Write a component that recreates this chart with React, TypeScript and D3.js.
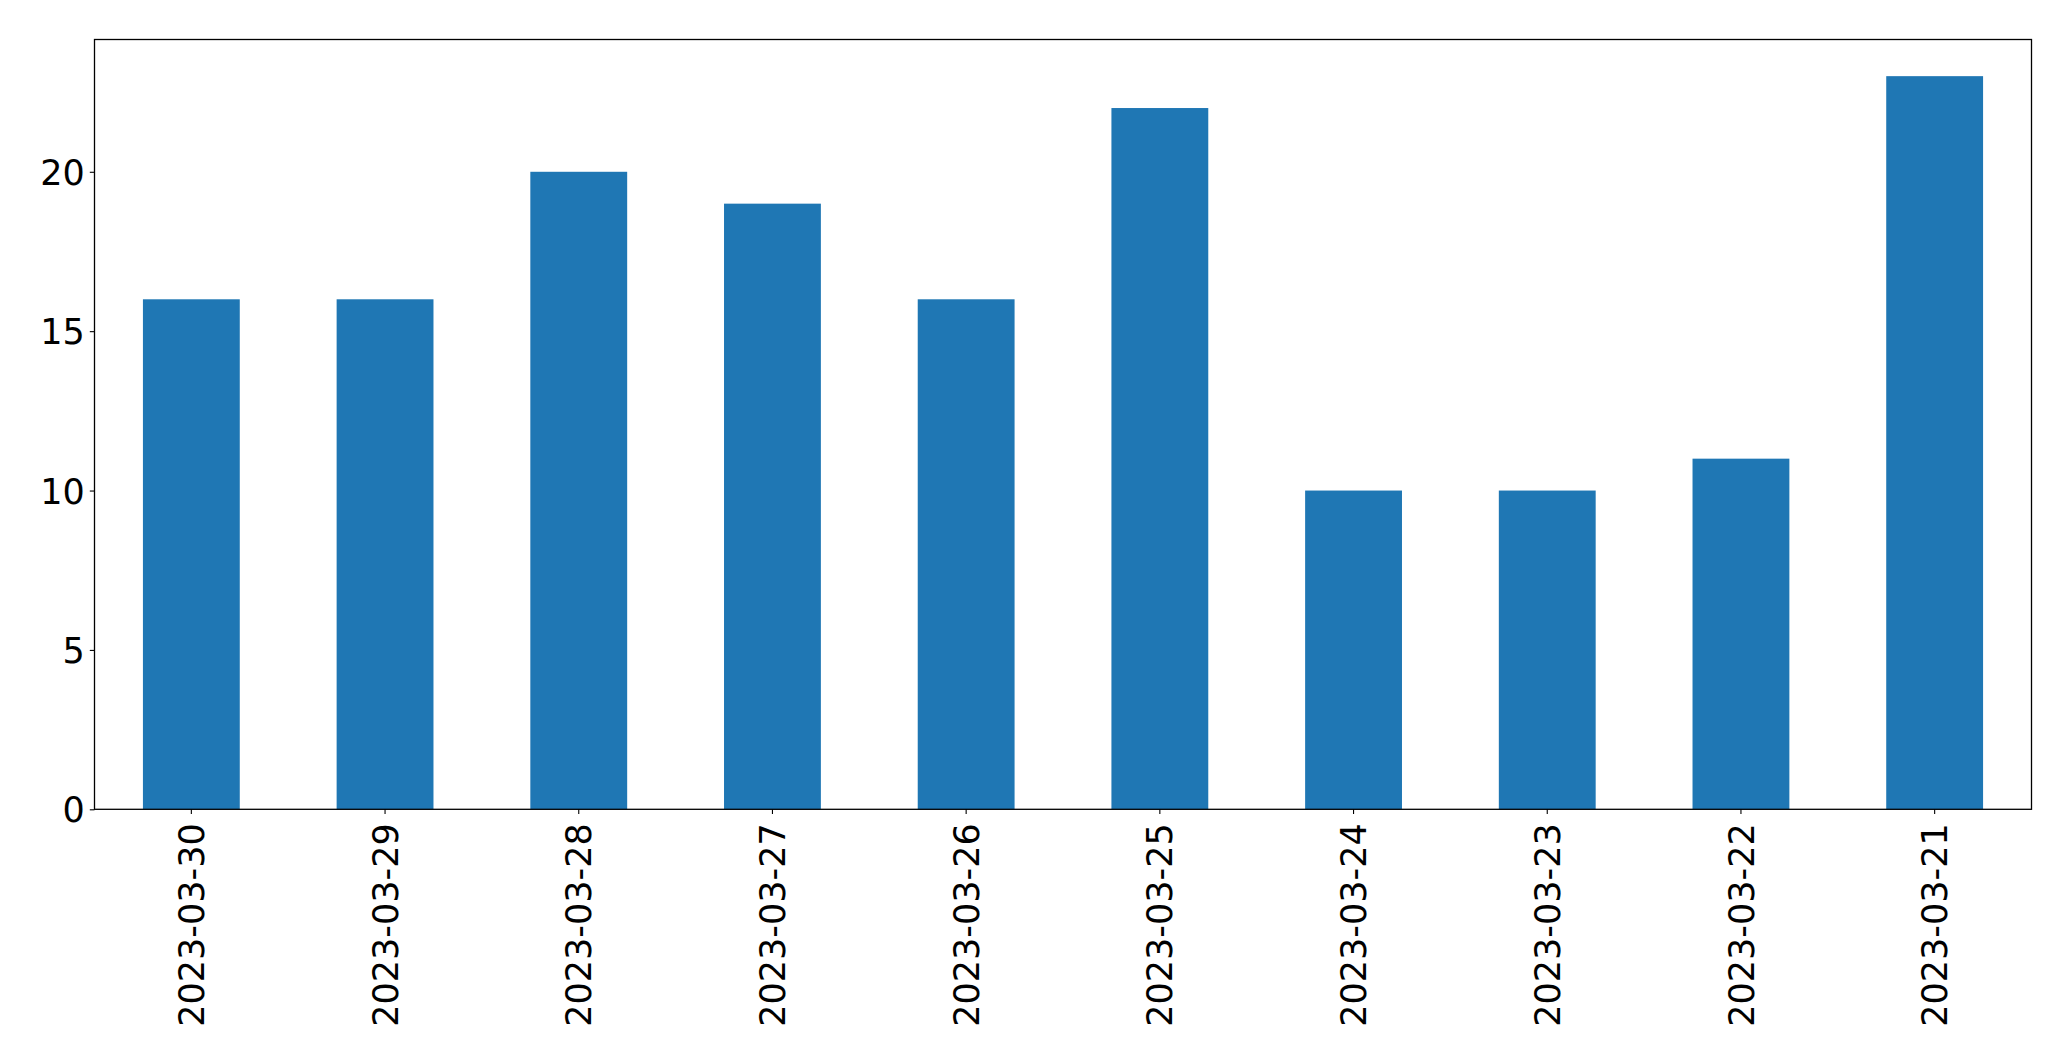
import { useEffect, useRef } from "react";
import * as d3 from "d3";

const dates = [
  "2023-03-30",
  "2023-03-29",
  "2023-03-28",
  "2023-03-27",
  "2023-03-26",
  "2023-03-25",
  "2023-03-24",
  "2023-03-23",
  "2023-03-22",
  "2023-03-21",
];
const counts = [16, 16, 20, 19, 16, 22, 10, 10, 11, 23];
const yTicks = [0, 5, 10, 15, 20];

const W = 2071;
const H = 1061;

export default function App() {
  const svgRef = useRef<SVGSVGElement>(null);

  useEffect(() => {
    const svg = d3.select(svgRef.current);
    svg.selectAll("*").remove();

    const margin = { top: 39.5, right: W - 2031.5, bottom: H - 809.3, left: 94.5 };
    const width = W - margin.left - margin.right;
    const height = H - margin.top - margin.bottom;
    const font = "'DejaVu Sans', sans-serif";
    const fontSize = 35;

    const x = d3.scaleBand().domain(dates).range([0, width]).paddingInner(0.5).paddingOuter(0.25);
    const y = d3
      .scaleLinear()
      .domain([0, (d3.max(counts) || 0) * 1.05])
      .range([height, 0]);

    const g = svg.append("g").attr("transform", `translate(${margin.left},${margin.top})`);

    // bars
    g.selectAll(".bar")
      .data(counts)
      .enter()
      .append("rect")
      .attr("class", "bar")
      .attr("x", (_, i) => x(dates[i]) || 0)
      .attr("y", (d) => y(d))
      .attr("width", x.bandwidth())
      .attr("height", (d) => height - y(d))
      .attr("fill", "#1f77b4");

    // y axis
    const yAxis = g
      .append("g")
      .call(d3.axisLeft(y).tickValues(yTicks).tickSize(4.7).tickPadding(5).tickFormat(d3.format("d")));
    yAxis.select(".domain").remove();
    yAxis.selectAll(".tick line").attr("stroke", "#000").attr("stroke-width", 1.1);
    yAxis
      .selectAll(".tick text")
      .attr("fill", "#000")
      .attr("font-family", font)
      .attr("font-size", fontSize)
      .attr("dy", "0.36em");

    // x axis
    const xAxis = g
      .append("g")
      .attr("transform", `translate(0,${height})`)
      .call(d3.axisBottom(x).tickSize(4.7).tickPadding(5));
    xAxis.select(".domain").remove();
    xAxis.selectAll(".tick line").attr("stroke", "#000").attr("stroke-width", 1.1);
    xAxis
      .selectAll(".tick text")
      .attr("fill", "#000")
      .attr("font-family", font)
      .attr("font-size", fontSize)
      .attr("text-anchor", "end")
      .attr("dy", "0.36em")
      .attr("y", 0)
      .attr("transform", "translate(0,14) rotate(-90)");

    // frame
    g.append("rect")
      .attr("x", 0)
      .attr("y", 0)
      .attr("width", width)
      .attr("height", height)
      .attr("fill", "none")
      .attr("stroke", "#000")
      .attr("stroke-width", 1.3);
  }, []);

  return (
    <svg
      ref={svgRef}
      width={W}
      height={H}
      style={{ position: "absolute", left: 0, top: 0, background: "#fff" }}
    />
  );
}
